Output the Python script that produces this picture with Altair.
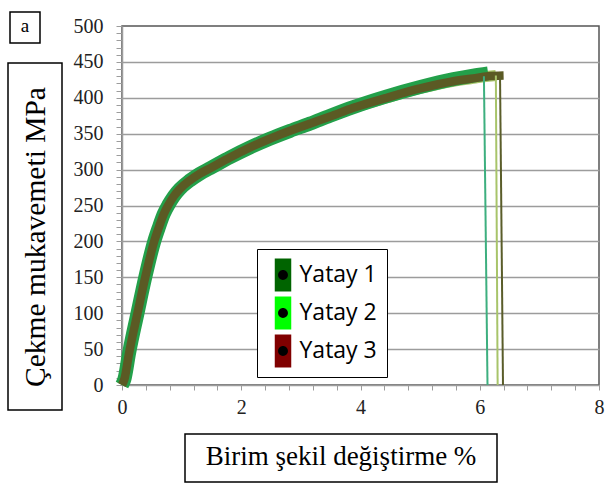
import altair as alt
import pandas as pd

# ---------------- data ----------------
series_names = ["Yatay 1", "Yatay 2", "Yatay 3"]
legend_colors = ["#006400", "#00ff00", "#800000"]

strain_1 = [0, 0.04, 0.12, 0.26, 0.39, 0.54, 0.62, 0.70, 0.78, 0.87, 0.97, 1.14, 1.30, 1.48,
            1.81, 2.15, 2.48, 2.82, 3.15, 3.49, 3.88, 4.44, 5.00, 5.56, 5.89, 6.14]
stress_1 = [0, 8, 45, 100, 150, 200, 220, 238, 251, 263, 273, 285, 294, 302,
            317, 331, 343, 354, 364, 375, 387, 402, 415, 426, 431, 434]

strain_2 = [0, 0.04, 0.12, 0.26, 0.39, 0.54, 0.62, 0.70, 0.78, 0.87, 0.97, 1.14, 1.30, 1.48,
            1.81, 2.15, 2.48, 2.82, 3.15, 3.49, 3.88, 4.44, 5.00, 5.56, 5.89, 6.14, 6.27]
stress_2 = [0, 8, 45, 100, 150, 200, 220, 238, 251, 263, 273, 285, 294, 302,
            317, 331, 343, 354, 364, 374, 386, 400, 413, 423, 427, 430, 431]

strain_3 = [0, 0.04, 0.12, 0.26, 0.39, 0.54, 0.62, 0.70, 0.78, 0.87, 0.97, 1.14, 1.30, 1.48,
            1.81, 2.15, 2.48, 2.82, 3.15, 3.49, 3.88, 4.44, 5.00, 5.56, 5.89, 6.14, 6.40]
stress_3 = [0, 8, 45, 100, 150, 200, 220, 238, 251, 263, 273, 285, 294, 302,
            317, 331, 343, 354, 364, 374, 386, 400, 413, 423, 427, 430, 431]

curve_colors = ["#23a04a", "#a8c46a", "#5b5a24"]
curve_widths = [14, 11, 8.5]

# fracture drops
drop_x_top = [6.07, 6.27, 6.34]
drop_x_bottom = [6.13, 6.30, 6.39]
drop_y_top = [430, 431, 431]
drop_y_bottom = [0, 0, 0]
drop_colors = ["#3daf7f", "#a8c46a", "#5a5d2a"]

y_ticks = list(range(0, 501, 10))
x_ticks = [0, 0.4, 0.8, 1.2, 1.6, 2, 2.4, 2.8, 3.2, 3.6, 4, 4.4, 4.8, 5.2, 5.6, 6,
           6.4, 6.8, 7.2, 7.6, 8]

y_title = "Çekme mukavemeti MPa"
x_title = "Birim şekil değiştirme %"
panel_label = "a"

# ---------------- styling ----------------
SERIF = "Liberation Serif"
GRID = "#9c9c9c"

x_axis = alt.Axis(values=x_ticks, title=None, grid=False,
                  labelExpr="abs(datum.value % 2) < 0.000001 ? toString(round(datum.value)) : ''",
                  labelFont=SERIF, labelFontSize=20, labelColor="#222", labelFlush=False,
                  labelOverlap=False, labelBound=False,
                  labelPadding=7, tickSize=5, tickColor=GRID, tickWidth=1,
                  domainColor=GRID, domainWidth=1.5)
y_axis = alt.Axis(values=y_ticks, title=None, grid=True,
                  gridColor=GRID, gridWidth=1.5,
                  gridOpacity={"condition": {"test": "datum.value % 50 === 0 && datum.value > 0 && datum.value < 500",
                                             "value": 1}, "value": 0},
                  labelExpr="datum.value % 50 === 0 ? datum.label : ''",
                  labelFont=SERIF, labelFontSize=20, labelColor="#222", labelFlush=False,
                  labelOverlap=False,
                  labelPadding=13, tickSize=6, tickColor=GRID, tickWidth=1,
                  domainColor=GRID, domainWidth=1.5)
x_scale = alt.Scale(domain=[0, 8], nice=False)
y_scale = alt.Scale(domain=[0, 500], nice=False)


def X(field):
    return alt.X(f"{field}:Q", scale=x_scale, axis=x_axis)


def Y(field):
    return alt.Y(f"{field}:Q", scale=y_scale, axis=y_axis)


layers = []

# curves (draw light olive first, then green, then brown on top)
curves = [(strain_2, stress_2, 1), (strain_1, stress_1, 0), (strain_3, stress_3, 2)]
for xs, ys, i in curves:
    df = pd.DataFrame({"strain": xs, "stress": ys, "order": list(range(len(xs)))})
    layers.append(
        alt.Chart(df).mark_line(color=curve_colors[i], strokeWidth=curve_widths[i],
                                interpolate="monotone", strokeCap="butt", strokeJoin="round")
        .encode(x=X("strain"), y=Y("stress"), order="order:Q")
    )

# drop lines
for i in range(3):
    ddf = pd.DataFrame({"xt": [drop_x_top[i]], "xb": [drop_x_bottom[i]],
                        "yt": [drop_y_top[i]], "yb": [drop_y_bottom[i]]})
    layers.append(
        alt.Chart(ddf).mark_rule(strokeWidth=2, color=drop_colors[i])
        .encode(x=X("xt"), x2="xb", y=Y("yt"), y2="yb")
    )

# legend source (invisible points at the curve ends)
leg_df = pd.DataFrame({"strain": [strain_1[-1], strain_2[-1], strain_3[-1]],
                       "stress": [stress_1[-1], stress_2[-1], stress_3[-1]],
                       "series": series_names, "series_b": series_names})
rect_path = "M-0.5,-1H0.5V1H-0.5Z"
# dot with degenerate sub-paths so its bounds match the rectangle's height
dot_path = ("M0,-1L0,-1M0,1L0,1"
            "M-0.3,0A0.3,0.3 0 1,0 0.3,0A0.3,0.3 0 1,0 -0.3,0Z")
common_leg = dict(title=None, orient="none", legendX=135, legendY=223,
                  symbolSize=1089, symbolStrokeWidth=0, symbolOpacity=1,
                  labelFont="Open Sans", labelFontSize=23, labelColor="black",
                  labelOffset=0, padding=9.5, labelLimit=200, rowPadding=5)
layers.append(
    alt.Chart(leg_df).mark_point(filled=True, opacity=0)
    .encode(x=X("strain"), y=Y("stress"),
            color=alt.Color("series:N", scale=alt.Scale(domain=series_names, range=legend_colors),
                            legend=alt.Legend(symbolType=rect_path, fillColor="white",
                                              strokeColor="black", **common_leg)))
)
layers.append(
    alt.Chart(leg_df).mark_point(filled=True, opacity=0)
    .encode(x=X("strain"), y=Y("stress"),
            fill=alt.Fill("series_b:N", scale=alt.Scale(domain=series_names, range=["black"] * 3),
                          legend=alt.Legend(symbolType=dot_path, labelOpacity=0, **common_leg)))
)

# decorative boxes & titles (pixel positions relative to plot area)
box_df = pd.DataFrame({"k": [0]})
boxes = [(-112, -82, -14, 17), (-114, -60, 37, 384), (63, 375, 408, 456)]
for x1, x2, y1, y2 in boxes:
    layers.append(
        alt.Chart(box_df).mark_rect(fill="white", stroke="black", strokeWidth=1.5)
        .encode(x=alt.value(x1), x2=alt.value(x2), y=alt.value(y1), y2=alt.value(y2))
    )

layers.append(
    alt.Chart(box_df).mark_text(text=panel_label, font=SERIF, fontSize=19, color="black",
                                align="center", baseline="middle")
    .encode(x=alt.value(-97), y=alt.value(0))
)
layers.append(
    alt.Chart(box_df).mark_text(text=y_title, font=SERIF, fontSize=29.5, color="black",
                                align="center", baseline="middle", angle=270)
    .encode(x=alt.value(-86), y=alt.value(211))
)
layers.append(
    alt.Chart(box_df).mark_text(text=x_title, font=SERIF, fontSize=27, color="black",
                                align="center", baseline="middle")
    .encode(x=alt.value(219), y=alt.value(431))
)

chart = (
    alt.layer(*layers)
    .resolve_legend(color="independent", fill="independent")
    .properties(width=477, height=359,
                padding={"left": 122, "top": 26, "right": 9, "bottom": 103},
                autosize=alt.AutoSizeParams(type="none"),
                background="white")
    .configure_view(stroke="#555", strokeWidth=1.5)
)

chart.save("out.html", embed_options={"renderer": "svg", "actions": False})
